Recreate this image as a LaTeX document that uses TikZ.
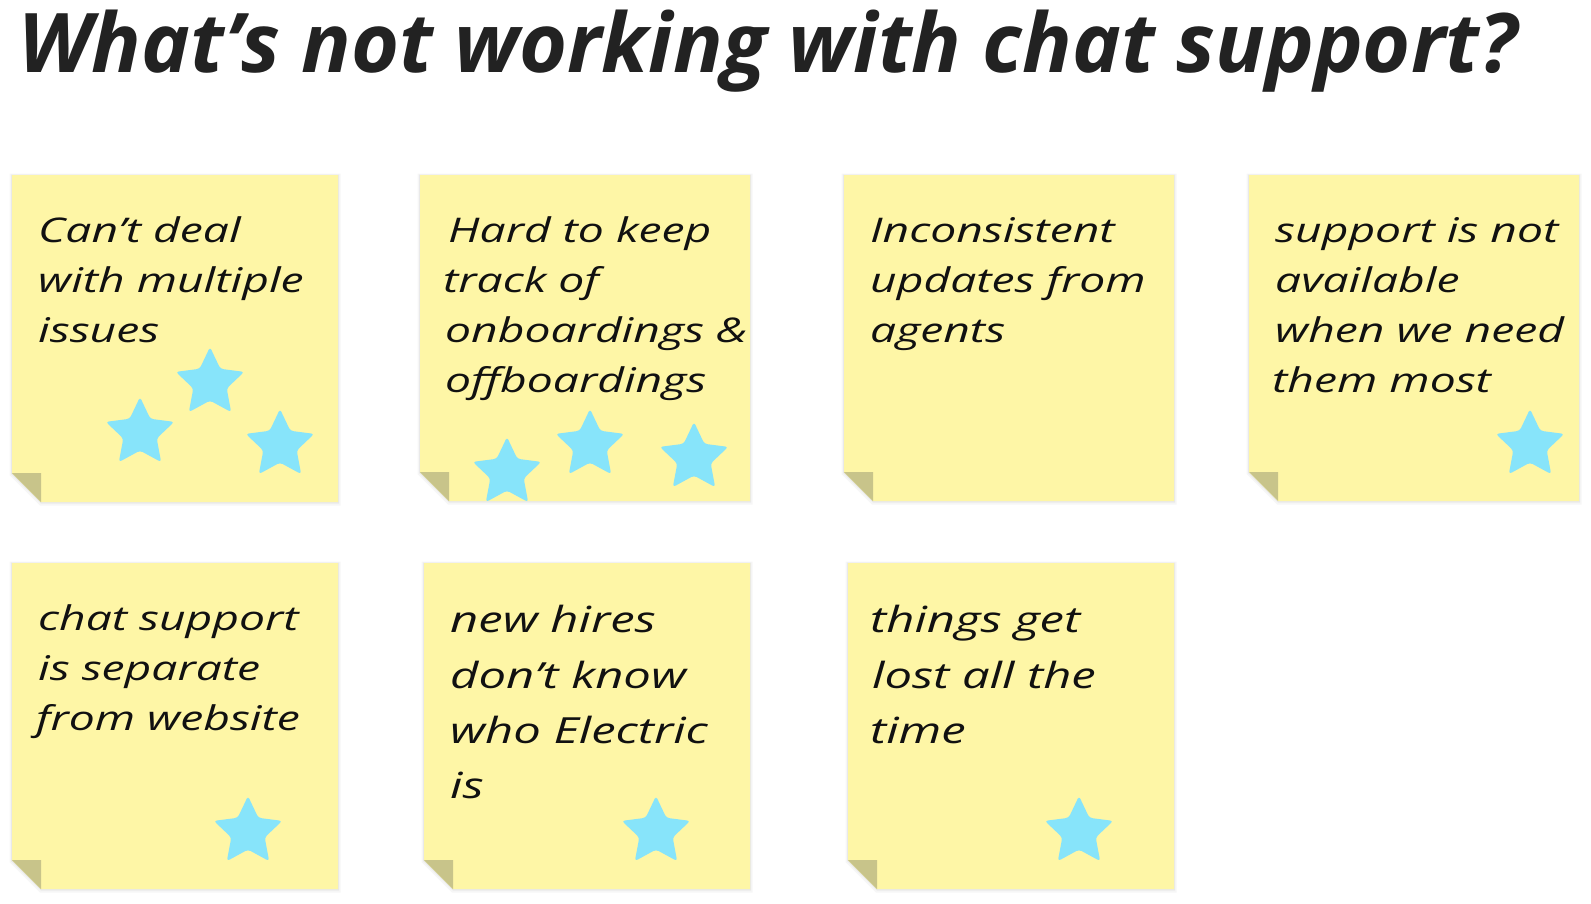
\documentclass[tikz,border=0pt]{standalone}
\usepackage{graphicx}
\usepackage{fontspec}
\setmainfont{Open Sans}
\newfontfamily\titlefont{Open Sans}
\newfontfamily\notefont[FakeStretch=1.36]{Open Sans}
\usetikzlibrary{shapes.geometric}
\definecolor{notefill}{HTML}{FEF6A6}
\definecolor{foldfill}{HTML}{C8C48A}
\definecolor{starfill}{HTML}{87E4FA}
\definecolor{inkcol}{HTML}{111111}
\definecolor{titleink}{HTML}{222222}
\newcommand\stickynote[4]{%
  \fill[black,opacity=0.035] (#1-2.5,#2-1.5) -- (#3+2.5,#2-1.5) -- (#3+2.5,#4+3.5) -- (#1+28,#4+3.5) -- (#1-2.5,#4-27) -- cycle;
  \fill[black,opacity=0.05] (#1-1,#2-0.5) -- (#3+1,#2-0.5) -- (#3+1,#4+1.5) -- (#1+29,#4+1.5) -- (#1-1,#4-28) -- cycle;
  \fill[notefill] (#1,#2) -- (#3,#2) -- (#3,#4) -- (#1+29,#4) -- (#1,#4-29) -- cycle;
  \fill[foldfill] (#1,#4-29) -- (#1+29,#4-29) -- (#1+29,#4) -- cycle;
}
\tikzset{
  notetext/.style={anchor=base west, inner sep=0pt, text=inkcol, font=\notefont\itshape\fontsize{34}{40}\selectfont},
  bignotetext/.style={notetext, font=\notefont\itshape\fontsize{36}{44}\selectfont},
  starshape/.style={star, star points=5, star point ratio=2.05, minimum size=72pt, inner sep=0pt, fill=starfill, draw=none, rounded corners=3pt},
}
\begin{document}
\begin{tikzpicture}[x=1pt,y=-1pt]
\useasboundingbox (0,0) rectangle (1591,903);
\fill[white] (0,0) rectangle (1591,903);

\node[anchor=base west, inner sep=0pt, text=titleink] (title) at (18,72)
  {\resizebox{1499pt}{!}{\titlefont\bfseries\itshape What’s not working with chat support?}};

% notes
\stickynote{12}{175}{338}{502}
\stickynote{420}{175}{750}{501}
\stickynote{844}{175}{1174}{501}
\stickynote{1249}{175}{1579}{501}
\stickynote{12}{563}{338}{889}
\stickynote{424}{563}{750}{889}
\stickynote{848}{563}{1174}{889}

% stars
\node[starshape] (s1a) at (210,383) {};
\node[starshape] (s1b) at (140,433) {};
\node[starshape] (s1c) at (280,445) {};
\node[starshape] (s2a) at (507,473) {};
\node[starshape] (s2b) at (590,445) {};
\node[starshape] (s2c) at (694,458) {};
\node[starshape] (s4a) at (1530,445) {};
\node[starshape] (s5a) at (248,832) {};
\node[starshape] (s6a) at (656,832) {};
\node[starshape] (s7a) at (1079,832) {};

% note texts
\node[notetext] (t1a) at (38,242) {Can’t deal};
\node[notetext] (t1b) at (38,292) {with multiple};
\node[notetext] (t1c) at (38,342) {issues};

\node[notetext] (t2a) at (448,242) {Hard to keep};
\node[notetext] (t2b) at (443,292) {track of};
\node[notetext] (t2c) at (445,342) {onboardings \&};
\node[notetext] (t2d) at (445,392) {offboardings};

\node[notetext] (t3a) at (870,242) {Inconsistent};
\node[notetext] (t3b) at (870,292) {updates from};
\node[notetext] (t3c) at (870,342) {agents};

\node[notetext] (t4a) at (1275,242) {support is not};
\node[notetext] (t4b) at (1275,292) {available};
\node[notetext] (t4c) at (1275,342) {when we need};
\node[notetext] (t4d) at (1272,392) {them most};

\node[notetext] (t5a) at (38,630) {chat support};
\node[notetext] (t5b) at (38,680) {is separate};
\node[notetext] (t5c) at (36,730) {from website};

\node[bignotetext] (t6a) at (450,632) {new hires};
\node[bignotetext] (t6b) at (450,688) {don’t know};
\node[bignotetext] (t6c) at (450,743) {who Electric};
\node[bignotetext] (t6d) at (450,798) {is};

\node[bignotetext] (t7a) at (870,632) {things get};
\node[bignotetext] (t7b) at (872,688) {lost all the};
\node[bignotetext] (t7c) at (870,743) {time};
\end{tikzpicture}
\end{document}
